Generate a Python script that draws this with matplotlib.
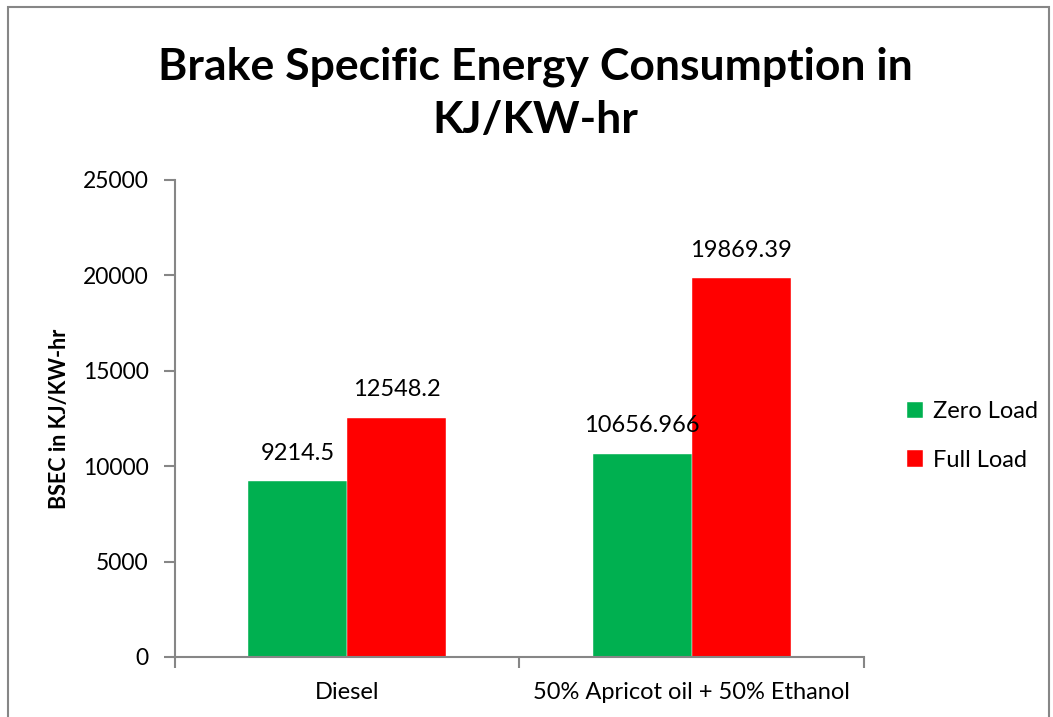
import matplotlib.pyplot as plt
import numpy as np
from matplotlib.patches import Rectangle

categories = ["Diesel", "50% Apricot oil + 50% Ethanol"]
zero_load = [9214.5, 10656.966]
full_load = [12548.2, 19869.39]
zero_labels = ["9214.5", "10656.966"]
full_labels = ["12548.2", "19869.39"]

plt.rcParams['font.family'] = ['Lato', 'DejaVu Sans']

fig = plt.figure(figsize=(10.53, 7.17), dpi=100)
ax = fig.add_axes([0.1662, 0.0837, 0.8205 - 0.1662, 0.749 - 0.0837])

x = np.arange(len(categories))
w = 0.287
b1 = ax.bar(x - w / 2, zero_load, w, color="#00b050", label="Zero Load", edgecolor="white", linewidth=0.3)
b2 = ax.bar(x + w / 2, full_load, w, color="#ff0000", label="Full Load", edgecolor="white", linewidth=0.3)

for rect, lab in zip(b1, zero_labels):
    ax.annotate(lab, (rect.get_x() + rect.get_width() / 2, rect.get_height()),
                xytext=(0, 20), textcoords="offset points", ha="center", va="center", fontsize=17)
for rect, lab in zip(b2, full_labels):
    ax.annotate(lab, (rect.get_x() + rect.get_width() / 2, rect.get_height()),
                xytext=(0, 20), textcoords="offset points", ha="center", va="center", fontsize=17)

ax.set_xlim(-0.5, 1.5)
ax.set_ylim(0, 25000)
ax.set_yticks(range(0, 25001, 5000))
ax.set_xticks([-0.5, 0.5, 1.5])
ax.set_xticklabels([])
ax.set_xticks(x, minor=True)
ax.set_xticklabels(categories, minor=True, fontsize=17)
ax.tick_params(axis="x", which="minor", length=0, pad=18)
ax.tick_params(axis="x", which="major", length=8, color="#868686", width=1.5)
ax.tick_params(axis="y", length=8, color="#868686", width=1.5, labelsize=16.5, pad=11)

for s in ["top", "right"]:
    ax.spines[s].set_visible(False)
for s in ["left", "bottom"]:
    ax.spines[s].set_color("#868686")
    ax.spines[s].set_linewidth(1.5)

ax.set_ylabel("BSEC in KJ/KW-hr", fontsize=15.5, fontweight="bold", labelpad=9)

fig.text(0.508, 0.87, "Brake Specific Energy Consumption in\nKJ/KW-hr", ha="center", va="center",
         fontsize=32, fontweight="bold", linespacing=1.42)

fig.legend(handles=[b1, b2], loc="center left", bbox_to_anchor=(0.861, 0.392), frameon=False,
           fontsize=17, handlelength=0.7, handleheight=0.7, labelspacing=1.15, handletextpad=0.4,
           borderaxespad=0, borderpad=0)

fig.patches.append(Rectangle((8 / 1053, -0.05), 1041 / 1053, 1 - 7 / 717 + 0.05, transform=fig.transFigure,
                             fill=False, edgecolor="#868686", linewidth=1.5))

fig.savefig("out.png", dpi=100)
